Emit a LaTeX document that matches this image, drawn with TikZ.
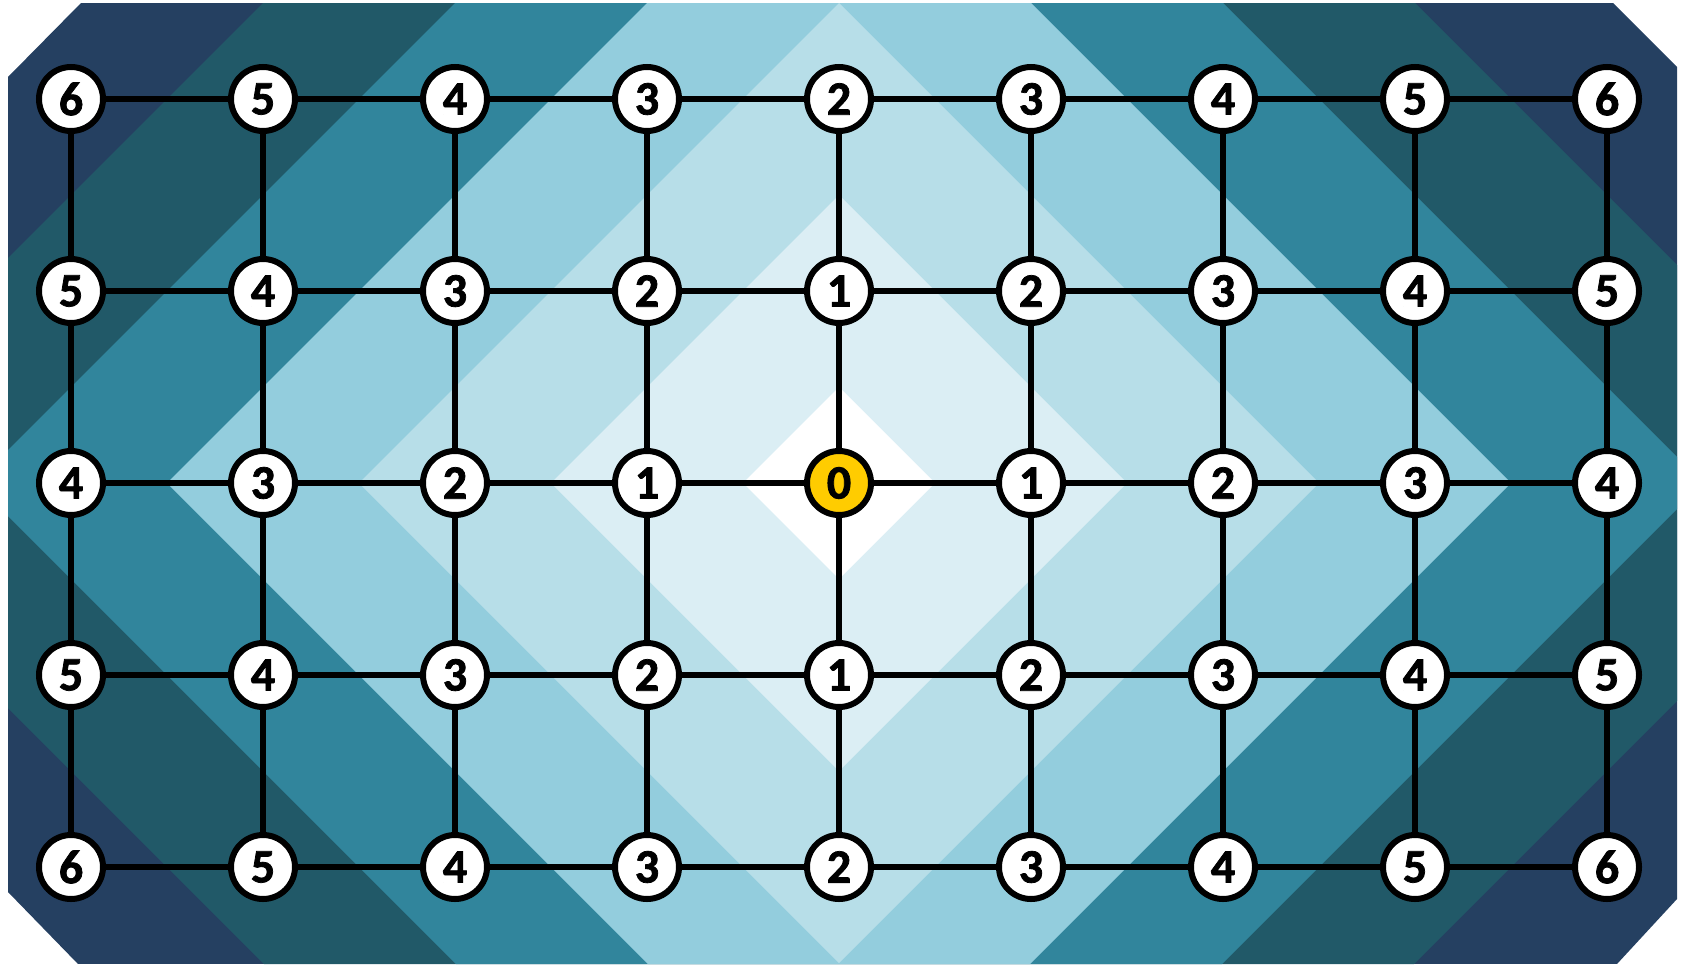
\documentclass[tikz,border=0pt]{standalone}
\usepackage{fontspec}
\setmainfont{Carlito}[BoldFont={Carlito Bold},BoldFeatures={FakeBold=1.6}]
\definecolor{bandA}{HTML}{DBEEF4}
\definecolor{bandB}{HTML}{B7DEE8}
\definecolor{bandC}{HTML}{93CDDD}
\definecolor{bandD}{HTML}{31859C}
\definecolor{bandE}{HTML}{215968}
\definecolor{bandF}{HTML}{254061}
\definecolor{startcol}{HTML}{FFCC00}
\tikzset{
  gridnode/.style={circle, draw=black, line width=6pt, fill=white, minimum size=64pt, inner sep=0pt, font=\fontsize{48}{48}\selectfont\bfseries},
  startnode/.style={gridnode, fill=startcol},
  gridedge/.style={draw=black, line width=5.3pt},
}
\begin{document}
\begin{tikzpicture}[x=1pt,y=-1pt]
\useasboundingbox (0,0) rectangle (1683,964);
\begin{scope}
  \clip (8,77) -- (81,3) -- (1613,3) -- (1677,67) -- (1677,899) -- (1617,964) -- (78,964) -- (8,892) -- cycle;
  \fill[bandF] (0,0) rectangle (1683,964);
  \foreach \r/\c in {5.5/bandE, 4.5/bandD, 3.5/bandC, 2.5/bandB, 1.5/bandA, 0.5/white} {
    \fill[\c] (839,483) ++(-\r*192,0) -- ++(\r*192,-\r*192) -- ++(\r*192,\r*192) -- ++(-\r*192,\r*192) -- cycle;
  }
\end{scope}
\foreach \i in {0,...,8} {
  \foreach \j in {0,...,4} {
    \pgfmathtruncatemacro{\d}{abs(\i-4)+abs(\j-2)}
    \ifnum\d=0
      \node[startnode] (n-\i-\j) at (71+\i*192, 99+\j*192) {\d};
    \else
      \node[gridnode] (n-\i-\j) at (71+\i*192, 99+\j*192) {\d};
    \fi
  }
}
\foreach \i [evaluate=\i as \k using int(\i+1)] in {0,...,7} {
  \foreach \j in {0,...,4} {
    \draw[gridedge] (n-\i-\j) -- (n-\k-\j);
  }
}
\foreach \i in {0,...,8} {
  \foreach \j [evaluate=\j as \k using int(\j+1)] in {0,...,3} {
    \draw[gridedge] (n-\i-\j) -- (n-\i-\k);
  }
}
\end{tikzpicture}
\end{document}
